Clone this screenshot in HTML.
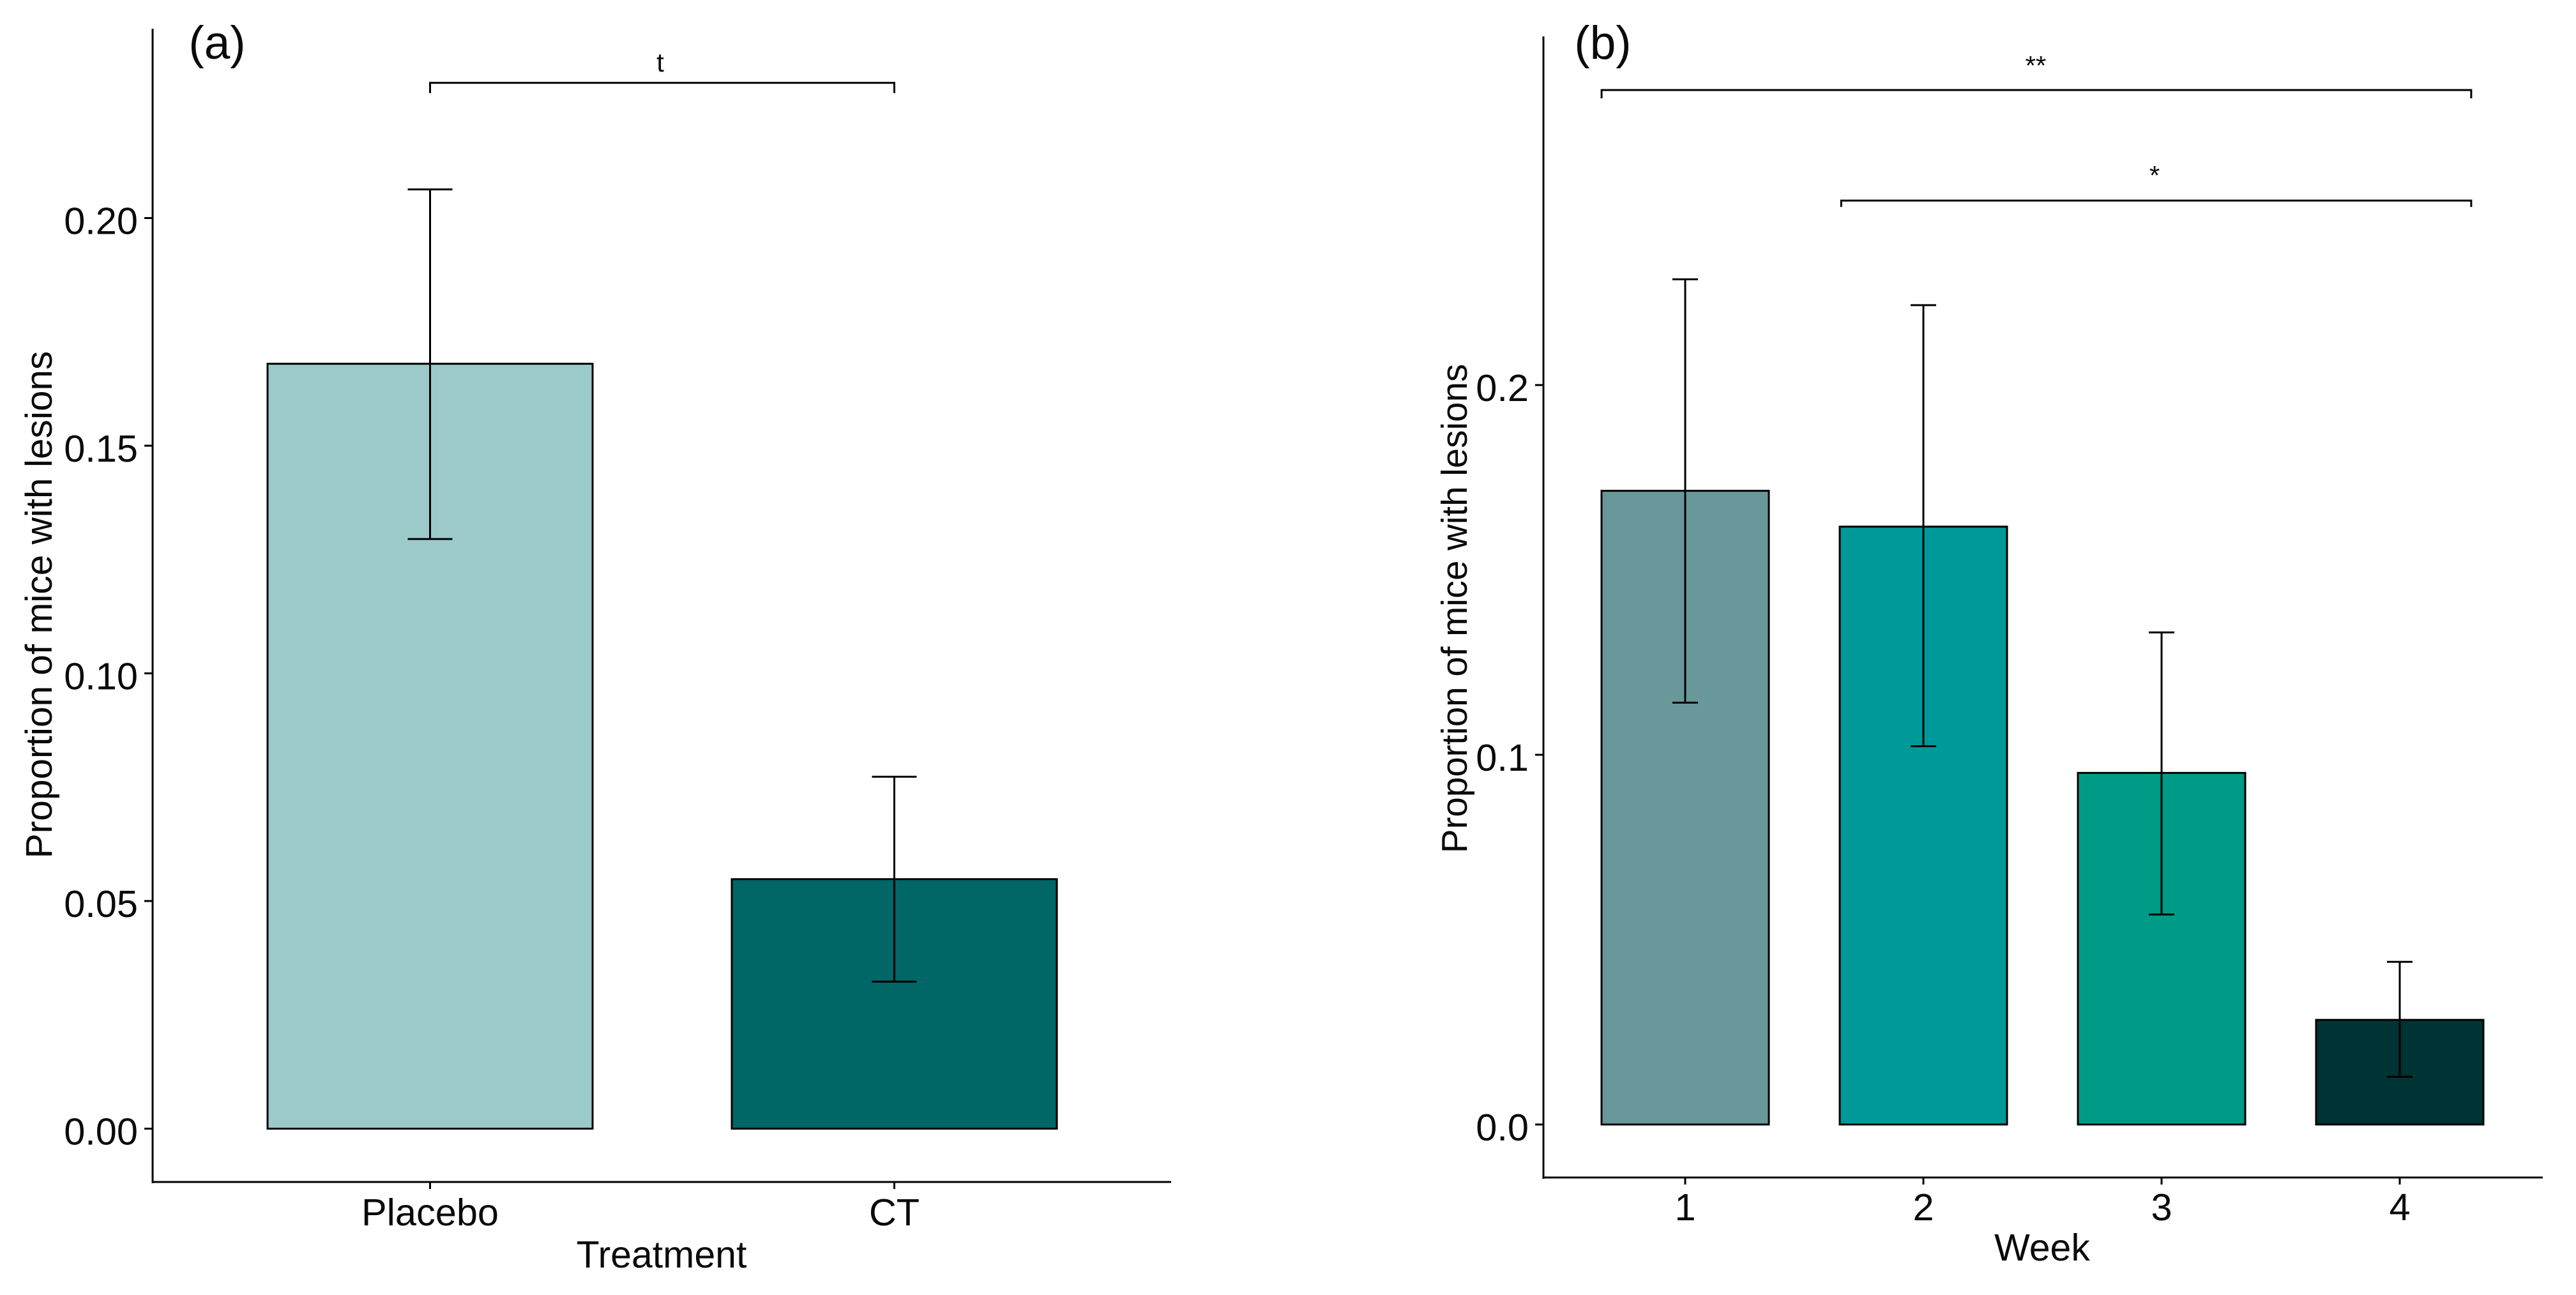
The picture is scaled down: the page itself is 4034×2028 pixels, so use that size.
<!DOCTYPE html>
<html lang="en">
<head>
<meta charset="utf-8">
<title>Proportion of mice with lesions</title>
<style>
html,body{margin:0;padding:0;background:#fff;width:4034px;height:2028px;overflow:hidden}
svg{display:block}
text{font-family:"Liberation Sans",Arial,sans-serif;fill:#0a0a0a}
</style>
</head>
<body>
<svg id="figure" xmlns="http://www.w3.org/2000/svg" width="4034" height="2028" viewBox="0 0 4034 2028"></svg>
<script>
// Panel (a) data
const treatmentCategories = ['Placebo', 'CT'];
const treatmentValues = [0.168, 0.0548];
const treatmentLower = [0.1295, 0.0323];
const treatmentUpper = [0.2063, 0.0773];
const treatmentTicks = [0, 0.05, 0.10, 0.15, 0.20];
const treatmentTickLabels = ['0.00', '0.05', '0.10', '0.15', '0.20'];
const treatmentColors = ['#9CCACB', '#006666'];

// Panel (b) data
const weekCategories = ['1', '2', '3', '4'];
const weekValues = [0.1714, 0.1617, 0.0951, 0.0283];
const weekLower = [0.1141, 0.1023, 0.0568, 0.0129];
const weekUpper = [0.2286, 0.2216, 0.1331, 0.044];
const weekTicks = [0, 0.1, 0.2];
const weekTickLabels = ['0.0', '0.1', '0.2'];
const weekColors = ['#689899', '#009999', '#009B86', '#003333'];

const svg = document.getElementById('figure');
const NS = 'http://www.w3.org/2000/svg';

function make(tag, parent, attrs) {
  const el = document.createElementNS(NS, tag);
  for (const k in attrs) el.setAttribute(k, attrs[k]);
  parent.appendChild(el);
  return el;
}

function drawPanel(p) {
  const g = make('g', svg, {});
  
  
  const x = c => p.x0 + p.xStep * c;
  const y = v => p.y0 - p.yScale * v;

  // bars
  p.values.forEach((v, i) => {
    const bar = make('rect', g, {
      x: x(i) - p.barHalf, y: y(v), width: p.barHalf * 2, height: y(0) - y(v),
      fill: p.colors[i], stroke: '#000', 'stroke-width': 3
    });
    
    
  });

  // error bars
  p.values.forEach((v, i) => {
    const d = 'M' + (x(i) - p.capHalf) + ' ' + y(p.upper[i]) + 'H' + (x(i) + p.capHalf) +
      'M' + x(i) + ' ' + y(p.upper[i]) + 'V' + y(p.lower[i]) +
      'M' + (x(i) - p.capHalf) + ' ' + y(p.lower[i]) + 'H' + (x(i) + p.capHalf);
    const err = make('path', g, { d: d, fill: 'none', stroke: '#000', 'stroke-width': 3 });
    
    
  });

  // axes
  const yAxis = make('line', g, { x1: p.axisX, x2: p.axisX, y1: p.axisTop, y2: p.axisY + 2, stroke: '#000', 'stroke-width': 3 });
  
  
  const xAxis = make('line', g, { x1: p.axisX - 1, x2: p.axisRight, y1: p.axisY, y2: p.axisY, stroke: '#000', 'stroke-width': 3 });
  
  

  // y ticks
  p.ticks.forEach((t, i) => {
    const tick = make('line', g, { x1: p.axisX - 13, x2: p.axisX, y1: y(t), y2: y(t), stroke: '#000', 'stroke-width': 3 });
    
    
    const label = make('text', g, { x: p.axisX - 23, y: y(t) + 25, 'text-anchor': 'end', 'font-size': 59.5 });
    label.textContent = p.tickLabels[i];
    
    
  });

  // x ticks
  p.categories.forEach((c, i) => {
    const tick = make('line', g, { x1: x(i), x2: x(i), y1: p.axisY, y2: p.axisY + 11, stroke: '#000', 'stroke-width': 3 });
    
    
    const label = make('text', g, { x: x(i), y: p.xLabelY, 'text-anchor': 'middle', 'font-size': 59.5 });
    label.textContent = c;
    
    
  });

  // axis titles
  const xTitle = make('text', g, { x: p.xTitleX, y: p.xTitleY, 'text-anchor': 'middle', 'font-size': 59 });
  xTitle.textContent = p.xTitle;
  
  
  const yTitle = make('text', g, {
    x: 0, y: 0, 'text-anchor': 'middle', 'font-size': p.yTitleSize,
    transform: 'translate(' + p.yTitleX + ' ' + p.yTitleY + ') rotate(-90)'
  });
  yTitle.textContent = 'Proportion of mice with lesions';
  
  

  // panel letter
  const letter = make('text', g, { x: p.letterX, y: 92, 'text-anchor': 'middle', 'font-size': 73 });
  letter.textContent = p.letter;
  
  

  // significance brackets
  p.brackets.forEach(b => {
    const x1 = x(b.from), x2 = x(b.to), yb = y(b.level);
    const path = make('path', g, {
      d: 'M' + x1 + ' ' + (yb + b.drop) + 'V' + yb + 'H' + x2 + 'V' + (yb + b.drop),
      fill: 'none', stroke: '#000', 'stroke-width': 3
    });
    
    
    const mark = make('text', g, { x: b.labelX, y: b.labelY, 'text-anchor': 'middle', 'font-size': 42 });
    mark.textContent = b.label;
    
    
  });
}

drawPanel({
  id: 'treatment', letter: '(a)', letterX: 340,
  categories: treatmentCategories, values: treatmentValues, lower: treatmentLower, upper: treatmentUpper,
  ticks: treatmentTicks, tickLabels: treatmentTickLabels, colors: treatmentColors,
  x0: 673.5, xStep: 727, y0: 1767.5, yScale: 7130, barHalf: 254.5, capHalf: 35,
  axisX: 239, axisTop: 45, axisY: 1851, axisRight: 1834,
  xLabelY: 1919, xTitle: 'Treatment', xTitleX: 1036, xTitleY: 1985,
  yTitleX: 81, yTitleY: 947, yTitleSize: 58.6,
  brackets: [{ from: 0, to: 1, level: 0.2297, drop: 16, label: 't', labelX: 1034, labelY: 112 }]
});

drawPanel({
  id: 'week', letter: '(b)', letterX: 2510,
  categories: weekCategories, values: weekValues, lower: weekLower, upper: weekUpper,
  ticks: weekTicks, tickLabels: weekTickLabels, colors: weekColors,
  x0: 2639, xStep: 373, y0: 1761, yScale: 5790, barHalf: 131, capHalf: 20,
  axisX: 2417, axisTop: 57, axisY: 1844, axisRight: 3982,
  xLabelY: 1911, xTitle: 'Week', xTitleX: 3198, xTitleY: 1974,
  yTitleX: 2297, yTitleY: 953, yTitleSize: 56.5,
  brackets: [
    { from: -0.351, to: 3.3, level: 0.2798, drop: 13, label: '**', labelX: 3188, labelY: 117 },
    { from: 0.655, to: 3.3, level: 0.2499, drop: 10, label: '*', labelX: 3374, labelY: 289 }
  ]
});
</script>
</body>
</html>
